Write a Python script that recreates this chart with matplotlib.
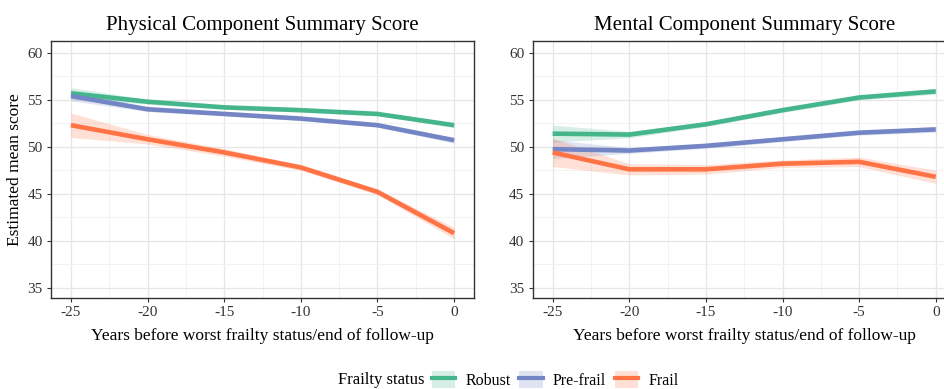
import matplotlib
matplotlib.use("Agg")
import matplotlib.pyplot as plt
from matplotlib.lines import Line2D
from matplotlib.patches import Patch
from matplotlib.ticker import MultipleLocator

plt.rcParams['font.family'] = ['Liberation Serif', 'DejaVu Serif']
plt.rcParams['axes.unicode_minus'] = False

years = [-25, -20, -15, -10, -5, 0]
groups = ["Robust", "Pre-frail", "Frail"]
colors = ["#45b58c", "#7385c4", "#ff7345"]

# Physical Component Summary Score
pcs_robust = [55.7, 54.8, 54.2, 53.9, 53.5, 52.3]
pcs_prefrail = [55.4, 54.0, 53.5, 53.0, 52.3, 50.7]
pcs_frail = [52.3, 50.8, 49.4, 47.8, 45.2, 40.8]
pcs_robust_ci = [0.6, 0.25, 0.2, 0.2, 0.2, 0.25]
pcs_prefrail_ci = [0.5, 0.25, 0.2, 0.2, 0.2, 0.3]
pcs_frail_ci = [1.3, 0.5, 0.4, 0.3, 0.3, 0.6]

# Mental Component Summary Score
mcs_robust = [51.4, 51.3, 52.4, 53.9, 55.25, 55.9]
mcs_prefrail = [49.75, 49.6, 50.1, 50.8, 51.5, 51.85]
mcs_frail = [49.4, 47.6, 47.6, 48.2, 48.4, 46.8]
mcs_robust_ci = [0.9, 0.35, 0.25, 0.25, 0.25, 0.3]
mcs_prefrail_ci = [1.0, 0.3, 0.25, 0.25, 0.25, 0.3]
mcs_frail_ci = [1.5, 0.6, 0.5, 0.4, 0.5, 0.7]

panels = [
    ("Physical Component Summary Score",
     [pcs_robust, pcs_prefrail, pcs_frail],
     [pcs_robust_ci, pcs_prefrail_ci, pcs_frail_ci]),
    ("Mental Component Summary Score",
     [mcs_robust, mcs_prefrail, mcs_frail],
     [mcs_robust_ci, mcs_prefrail_ci, mcs_frail_ci]),
]

fig = plt.figure(figsize=(9.45, 3.89), dpi=100)
lefts = [0.054, 0.5637]
for (title, series, cis), left in zip(panels, lefts):
    ax = fig.add_axes([left, 0.234, 0.4476, 0.6614])
    for vals, ci, c in zip(series, cis, colors):
        lo = [v - e for v, e in zip(vals, ci)]
        hi = [v + e for v, e in zip(vals, ci)]
        ax.fill_between(years, lo, hi, color=c, alpha=0.22, lw=0, zorder=2)
        ax.plot(years, vals, color=c, lw=3.3, solid_capstyle='butt', zorder=3)
    ax.set_xlim(-26.3, 1.3)
    ax.set_ylim(33.9, 61.3)
    ax.xaxis.set_major_locator(MultipleLocator(5))
    ax.xaxis.set_minor_locator(MultipleLocator(2.5))
    ax.yaxis.set_major_locator(MultipleLocator(5))
    ax.yaxis.set_minor_locator(MultipleLocator(2.5))
    ax.grid(which='major', color='#e6e6e6', lw=0.9, zorder=0)
    ax.grid(which='minor', color='#f0f0f0', lw=0.6, zorder=0)
    ax.set_axisbelow(True)
    for s in ax.spines.values():
        s.set_color('#333333')
        s.set_linewidth(1.0)
    ax.tick_params(which='major', length=3, width=0.8, color='#333333',
                   labelsize=11, labelcolor='#333333', pad=3)
    ax.tick_params(which='minor', length=0)
    ax.set_title(title, fontsize=15, pad=8)
    ax.set_xlabel("Years before worst frailty status/end of follow-up", fontsize=12.5, labelpad=6)
    if left == lefts[0]:
        ax.set_ylabel("Estimated mean score", fontsize=12.5, labelpad=3)

fig.text(0.358, 0.023, "Frailty status", fontsize=12, va='center', ha='left')
handles = [(Patch(facecolor=c, alpha=0.22, edgecolor='none'),
            Line2D([], [], color=c, lw=3)) for c in colors]
fig.legend(handles, groups, loc='center left', bbox_to_anchor=(0.457, 0.023),
           ncol=3, frameon=False, fontsize=11.5, handlelength=1.45, handleheight=1.3,
           columnspacing=0.55, handletextpad=0.65, borderpad=0, borderaxespad=0)

fig.savefig("out.png", dpi=100)
